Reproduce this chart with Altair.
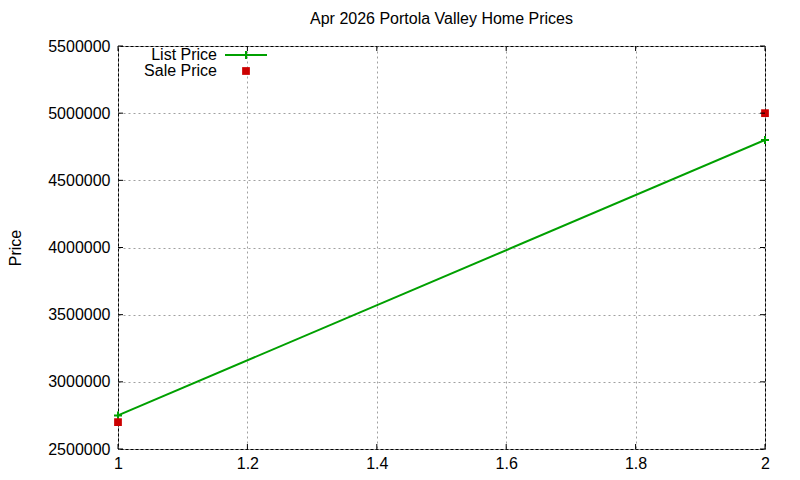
import altair as alt
import pandas as pd

# ---- data ----
x_vals = [1, 2]
list_price = [2750000, 4800000]
sale_price = [2700000, 5000000]
x_ticks = [1, 1.2, 1.4, 1.6, 1.8, 2]
y_ticks = [2500000, 3000000, 3500000, 4000000, 4500000, 5000000, 5500000]
legend_labels = ["List Price", "Sale Price"]
title_text = "Apr 2026 Portola Valley Home Prices"
y_title = "Price"

GREEN = "#00a000"
RED = "#cc0000"
FONT = "Liberation Sans"
W, H = 647, 403

df_list = pd.DataFrame({"x": x_vals, "price": list_price})
df_sale = pd.DataFrame({"x": x_vals, "price": sale_price})
df_xt = pd.DataFrame({"x": x_ticks})
df_yt = pd.DataFrame({"y": y_ticks})

xscale = alt.Scale(domain=[1, 2], nice=False, zero=False)
yscale = alt.Scale(domain=[2500000, 5500000], nice=False, zero=False)

xaxis = alt.Axis(values=x_ticks, format="~g", title=None, grid=True, labelFlush=False,
                 labelOverlap=False, tickSize=0, labelPadding=6, domain=False,
                 gridColor="#a0a0a0", gridDash=[2, 3], gridWidth=1,
                 labelFont=FONT, labelFontSize=16, labelColor="black")
yaxis = alt.Axis(values=y_ticks, format="d", title=y_title, grid=True, tickSize=0,
                 labelPadding=8, domain=False, labelOverlap=False,
                 gridColor="#a0a0a0", gridDash=[2, 3], gridWidth=1,
                 labelFont=FONT, labelFontSize=16, labelColor="black",
                 titleX=-98, titleAlign="center", titleBaseline="alphabetic",
                 titleFont=FONT, titleColor="black",
                 titleFontWeight="normal", titleFontSize=16)

X = alt.X("x:Q", scale=xscale, axis=xaxis)
Y = alt.Y("price:Q", scale=yscale, axis=yaxis)

line = alt.Chart(df_list).mark_line(color=GREEN, strokeWidth=2).encode(x=X, y=Y)
plus = alt.Chart(df_list).mark_point(
    shape="M-1,0H1M0,-1V1", stroke=GREEN, strokeWidth=2, size=64, filled=False, opacity=1
).encode(x=alt.X("x:Q", scale=xscale), y=alt.Y("price:Q", scale=yscale))
sale = alt.Chart(df_sale).mark_square(color=RED, size=60, opacity=1).encode(
    x=alt.X("x:Q", scale=xscale), y=alt.Y("price:Q", scale=yscale))

# inward border ticks (gnuplot style, mirrored)
xt_bot = alt.Chart(df_xt).mark_rule(color="black").encode(
    x=alt.X("x:Q", scale=xscale), y=alt.value(H), y2=alt.value(H - 5))
xt_top = alt.Chart(df_xt).mark_rule(color="black").encode(
    x=alt.X("x:Q", scale=xscale), y=alt.value(0), y2=alt.value(5))
yt_left = alt.Chart(df_yt).mark_rule(color="black").encode(
    y=alt.Y("y:Q", scale=yscale), x=alt.value(0), x2=alt.value(5))
yt_right = alt.Chart(df_yt).mark_rule(color="black").encode(
    y=alt.Y("y:Q", scale=yscale), x=alt.value(W), x2=alt.value(W - 5))

# key (gnuplot-style: label left, sample right)
leg_text1 = alt.Chart(pd.DataFrame({"label": [legend_labels[0]]})).mark_text(
    align="right", baseline="middle", fontSize=16, font=FONT, color="black"
).encode(text="label:N", x=alt.value(99), y=alt.value(9))
leg_text2 = alt.Chart(pd.DataFrame({"label": [legend_labels[1]]})).mark_text(
    align="right", baseline="middle", fontSize=16, font=FONT, color="black"
).encode(text="label:N", x=alt.value(99), y=alt.value(25))
leg_line = alt.Chart(pd.DataFrame({"label": [legend_labels[0]]})).mark_rule(
    color=GREEN, strokeWidth=2).encode(x=alt.value(107), x2=alt.value(149), y=alt.value(9))
leg_plus = alt.Chart(pd.DataFrame({"label": [legend_labels[0]]})).mark_point(
    shape="M-1,0H1M0,-1V1", stroke=GREEN, strokeWidth=2, size=64, filled=False, opacity=1
).encode(x=alt.value(128), y=alt.value(9))
leg_sq = alt.Chart(pd.DataFrame({"label": [legend_labels[1]]})).mark_square(
    color=RED, size=60, opacity=1).encode(x=alt.value(128), y=alt.value(25))

chart = alt.layer(
    line, plus, sale, xt_bot, xt_top, yt_left, yt_right,
    leg_text1, leg_text2, leg_line, leg_plus, leg_sq
).properties(
    width=W, height=H,
    title=alt.TitleParams(title_text, fontSize=16, fontWeight="normal", font=FONT,
                          color="black", offset=11),
    autosize=alt.AutoSizeParams(type="none"),
    padding={"left": 110, "top": 38, "right": 27, "bottom": 23},
    background="white",
).configure_view(
    stroke="black", strokeWidth=1
)

chart.save("out.html", embed_options={"renderer": "svg", "actions": False})
